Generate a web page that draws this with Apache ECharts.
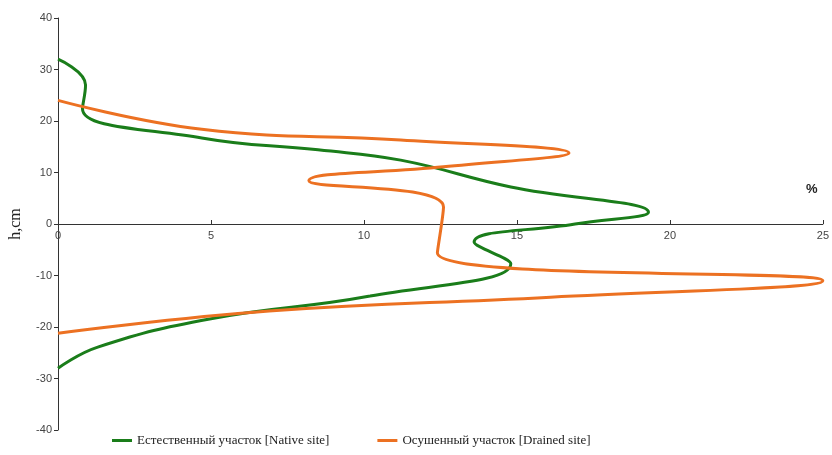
<!DOCTYPE html>
<html>
<head>
<meta charset="utf-8">
<script src="https://cdn.jsdelivr.net/npm/echarts@6/dist/echarts.min.js"></script>
<style>
  html, body { margin: 0; padding: 0; background: #fff; }
  #main { width: 832px; height: 455px; }
</style>
</head>
<body>
<div id="main"></div>
<script>
// Естественный участок: доля (%) по глубине h (см)
var nativePct = [0, 0.9, 0.8, 4.7, 8.5, 11.2, 14.8, 19.3, 16.9, 13.6, 14.8, 10.2, 5.0, 1.3, 0];
var nativeH   = [32, 27, 22.4, 16.7, 14.4, 12.4, 7.2, 2.3, 0, -3.5, -7.7, -14, -18.4, -23.9, -28];
// Осушенный участок
var drainedPct = [0, 4.7, 11.2, 16.7, 12.6, 8.2, 12.6, 12.4, 25, 16.1, 6.9, 0];
var drainedH   = [24, 18.4, 16.3, 13.8, 11.1, 8.4, 3.3, -5.6, -11, -14.2, -16.9, -21.2];

var xTicks = [0, 5, 10, 15, 20, 25];
var yTicks = [-40, -30, -20, -10, 0, 10, 20, 30, 40];

function zip(a, b) {
  var out = [];
  for (var i = 0; i < a.length; i++) out.push([a[i], b[i]]);
  return out;
}

var gridTop = 18, gridBottom = 25;
var gridH = 455 - gridTop - gridBottom;

var chart = echarts.init(document.getElementById('main'));
chart.setOption({
  animation: false,
  grid: { left: 54, right: 8, top: gridTop, bottom: gridBottom },
  xAxis: {
    type: 'value',
    min: xTicks[0], max: xTicks[xTicks.length - 1], interval: 5,
    // ось X проходит через h = 0
    offset: -gridH / 2,
    name: '%',
    nameLocation: 'end',
    nameGap: -17,
    nameTextStyle: { color: '#222', fontSize: 13, fontWeight: 'bold', fontFamily: 'Liberation Sans', verticalAlign: 'bottom', padding: [0, 0, 28, 0] },
    axisLine: { onZero: false, lineStyle: { color: '#333' } },
    axisTick: { show: true, inside: true, length: 4, lineStyle: { color: '#333' } },
    axisLabel: { color: '#444', fontSize: 11, fontFamily: 'Liberation Sans', margin: 6 },
    splitLine: { show: false }
  },
  yAxis: {
    type: 'value',
    min: yTicks[0], max: yTicks[yTicks.length - 1], interval: 10,
    name: 'h,cm',
    nameLocation: 'middle',
    nameGap: 34,
    nameTextStyle: { color: '#222', fontSize: 16, fontFamily: 'Liberation Serif' },
    axisLine: { show: true, lineStyle: { color: '#333' } },
    axisTick: { show: true, length: 4, lineStyle: { color: '#333' } },
    axisLabel: { color: '#444', fontSize: 11, fontFamily: 'Liberation Sans', margin: 6 },
    splitLine: { show: false }
  },
  legend: {
    bottom: 3, left: 107,
    icon: 'rect',
    itemWidth: 20, itemHeight: 3, itemGap: 48,
    textStyle: { color: '#222', fontSize: 13, fontFamily: 'Liberation Serif' },
    data: ['Естественный участок [Native site]', 'Осушенный участок [Drained site]']
  },
  series: [
    {
      name: 'Естественный участок [Native site]',
      type: 'line', smooth: 0.45, symbol: 'none',
      lineStyle: { color: '#1a7d1a', width: 3 },
      itemStyle: { color: '#1a7d1a' },
      data: zip(nativePct, nativeH)
    },
    {
      name: 'Осушенный участок [Drained site]',
      type: 'line', smooth: 0.45, symbol: 'none',
      lineStyle: { color: '#ec7122', width: 3 },
      itemStyle: { color: '#ec7122' },
      data: zip(drainedPct, drainedH)
    }
  ]
});
</script>
</body>
</html>
